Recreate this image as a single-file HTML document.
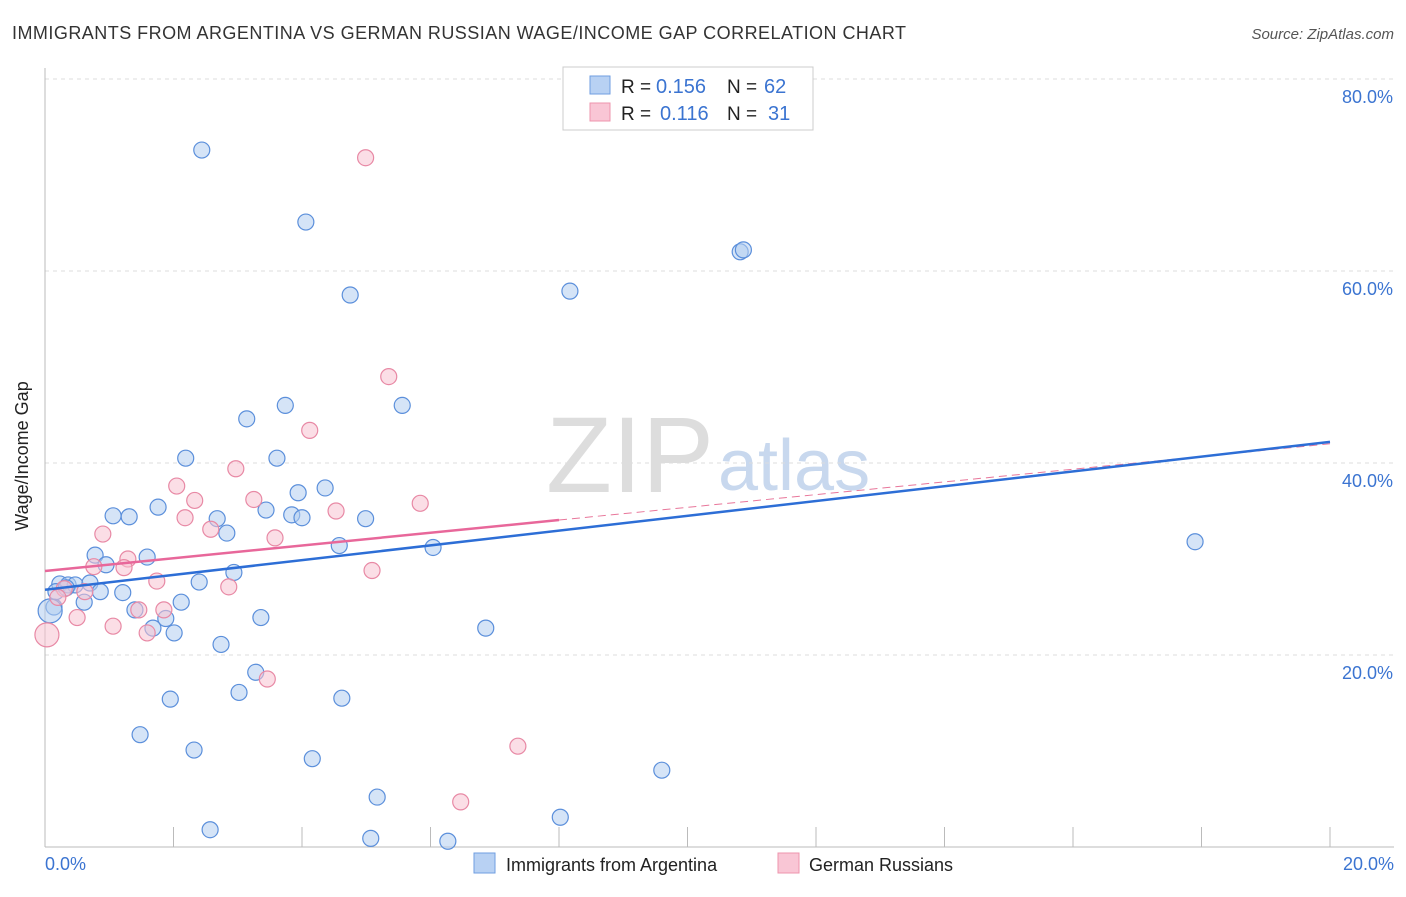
<!DOCTYPE html>
<html><head><meta charset="utf-8"><style>
body{margin:0;background:#fff;font-family:"Liberation Sans",sans-serif;}
svg text{font-family:"Liberation Sans",sans-serif;}
</style></head><body>
<svg id="chart" width="1406" height="892" viewBox="0 0 1406 892">
<text x="12" y="39" font-size="18" fill="#333" textLength="894">IMMIGRANTS FROM ARGENTINA VS GERMAN RUSSIAN WAGE/INCOME GAP CORRELATION CHART</text>
<text x="1394" y="39" font-size="15" fill="#555" font-style="italic" text-anchor="end">Source: ZipAtlas.com</text>
<text x="714" y="492" font-size="108" fill="#ddd" text-anchor="end" font-family="Liberation Serif">ZIP</text>
<text x="718" y="490" font-size="72" fill="#c8d8ee">atlas</text>
<g id="grid"></g>
<line x1="45" y1="68" x2="45" y2="847" stroke="#bbb"/>
<line x1="45" y1="847" x2="1394" y2="847" stroke="#bbb"/>
<text x="28" y="456" font-size="18" fill="#222" text-anchor="middle" transform="rotate(-90 28 456)">Wage/Income Gap</text>
<text x="45" y="870" font-size="18" fill="#3b74d1">0.0%</text>
<text x="1394" y="870" font-size="18" fill="#3b74d1" text-anchor="end">20.0%</text>
<g id="pts"></g>
<g id="lines"></g>
<g>
<rect x="563" y="67" width="250" height="63" fill="#fff" stroke="#ccc"/>
<rect x="590" y="76" width="20" height="18" fill="#b8d1f3" stroke="#6f9ee0"/>
<rect x="590" y="103" width="20" height="18" fill="#f9c6d5" stroke="#ee94ad"/>
<text x="621" y="93" font-size="19" fill="#222">R =</text>
<text x="656" y="93" font-size="20" fill="#3b74d1">0.156</text>
<text x="727" y="93" font-size="19" fill="#222">N =</text>
<text x="764" y="93" font-size="20" fill="#3b74d1">62</text>
<text x="621" y="120" font-size="19" fill="#222">R =</text>
<text x="660" y="120" font-size="20" fill="#3b74d1">0.116</text>
<text x="727" y="120" font-size="19" fill="#222">N =</text>
<text x="768" y="120" font-size="20" fill="#3b74d1">31</text>
</g>
<g>
<rect x="474" y="853" width="21" height="20" fill="#b8d1f3" stroke="#6f9ee0"/>
<text x="506" y="871" font-size="18" fill="#222">Immigrants from Argentina</text>
<rect x="778" y="853" width="21" height="20" fill="#f9c6d5" stroke="#ee94ad"/>
<text x="809" y="871" font-size="18" fill="#222">German Russians</text>
</g>
</svg>
<script>
const yTicks=[20,40,60,80];
const xTicks=[0,2,4,6,8,10,12,14,16,18,20];
const blueX=[2.44,4.06,4.75,8.17,10.82,10.87,3.74,5.56,3.14,2.19,3.61,1.76,1.06,1.31,2.68,2.83,3.44,3.94,4.36,3.84,4.00,4.99,4.58,6.04,17.90,0.78,1.59,0.95,2.94,0.23,0.36,0.47,0.70,0.86,1.21,2.40,0.61,2.12,0.14,0.08,1.40,1.88,1.68,2.01,3.36,6.86,2.74,3.28,1.95,3.02,4.62,1.48,2.32,4.16,9.60,5.17,2.57,5.07,6.27,8.02,0.17,0.33];
const blueY=[72.6,65.1,57.5,57.9,62.0,62.2,46.0,46.0,44.6,40.5,40.5,35.4,34.5,34.4,34.2,32.7,35.1,36.9,37.4,34.6,34.3,34.2,31.4,31.2,31.8,30.4,30.2,29.4,28.6,27.4,27.3,27.3,27.5,26.6,26.5,27.6,25.5,25.5,25.0,24.6,24.7,23.8,22.8,22.3,23.9,22.8,21.1,18.2,15.4,16.1,15.5,11.7,10.1,9.2,8.0,5.2,1.8,0.9,0.6,3.1,26.6,27.0];
const pinkX=[4.99,5.35,4.12,2.97,2.05,2.33,3.25,2.18,2.58,4.53,5.84,0.90,3.58,1.29,0.76,1.23,1.74,2.86,0.62,0.30,1.85,1.46,0.50,1.06,1.59,0.03,5.09,3.46,7.36,6.47,0.20];
const pinkY=[71.8,49.0,43.4,39.4,37.6,36.1,36.2,34.3,33.1,35.0,35.8,32.6,32.2,30.0,29.2,29.1,27.7,27.1,26.6,26.9,24.7,24.7,23.9,23.0,22.3,22.1,28.8,17.5,10.5,4.7,26.0];
const pinkBig=[25];const blueBig=[39];
const blueFit=[26.8,42.2];const pinkFit=[28.75,34.06,8,42.0];
const X=v=>45+v/20*1285, Y=v=>847-v*9.6;
const NS="http://www.w3.org/2000/svg";
const g=document.getElementById('grid');
yTicks.forEach(t=>{
 const l=document.createElementNS(NS,'line');
 
 
 l.setAttribute('x1',45);l.setAttribute('x2',1394);l.setAttribute('y1',Y(t));l.setAttribute('y2',Y(t));
 l.setAttribute('stroke','#ddd');l.setAttribute('stroke-dasharray','4 4');g.appendChild(l);
 const tx=document.createElementNS(NS,'text');
 
 
 tx.setAttribute('x',1393);tx.setAttribute('y',Y(t)+24);tx.setAttribute('text-anchor','end');
 tx.setAttribute('font-size','18');tx.setAttribute('fill','#3b74d1');tx.textContent=t.toFixed(1)+'%';g.appendChild(tx);
});
const tl=document.createElementNS(NS,'line');


tl.setAttribute('x1',45);tl.setAttribute('x2',1394);tl.setAttribute('y1',79);tl.setAttribute('y2',79);tl.setAttribute('stroke','#ddd');tl.setAttribute('stroke-dasharray','4 4');g.appendChild(tl);
xTicks.forEach(t=>{
 const l=document.createElementNS(NS,'line');
 
 
 l.setAttribute('x1',X(t));l.setAttribute('x2',X(t));l.setAttribute('y1',827);l.setAttribute('y2',847);
 l.setAttribute('stroke','#bbb');g.appendChild(l);
});
const p=document.getElementById('pts');
function dots(xs,ys,big,fill,stroke,name){
 xs.forEach((x,i)=>{
  const c=document.createElementNS(NS,'circle');
  
  
  c.setAttribute('cx',X(x));c.setAttribute('cy',Y(ys[i]));c.setAttribute('r',big.includes(i)?12:8);
  c.setAttribute('fill',fill);c.setAttribute('fill-opacity','0.55');c.setAttribute('stroke',stroke);c.setAttribute('stroke-width','1.2');
  p.appendChild(c);
 });
}
dots(blueX,blueY,blueBig,'#b3cdf0','#5b8fdb','argentina-point');
dots(pinkX,pinkY,pinkBig,'#f8c3d2','#e889a5','german-russian-point');
const L=document.getElementById('lines');
function line(x1,y1,x2,y2,col,dash,name){
 const l=document.createElementNS(NS,'line');
 
 
 l.setAttribute('x1',X(x1));l.setAttribute('y1',Y(y1));l.setAttribute('x2',X(x2));l.setAttribute('y2',Y(y2));
 l.setAttribute('stroke',col);l.setAttribute('stroke-width',dash?1:2.5);if(dash)l.setAttribute('stroke-dasharray','8 5');
 L.appendChild(l);
}
line(pinkFit[2],pinkFit[1],20,pinkFit[3],'#e8769a',true,'german-russian-trend-extension');
line(0,blueFit[0],20,blueFit[1],'#2d6ed6',false,'argentina-trend-line');
line(0,pinkFit[0],pinkFit[2],pinkFit[1],'#e8679a',false,'german-russian-trend-line');
</script>
</body></html>
